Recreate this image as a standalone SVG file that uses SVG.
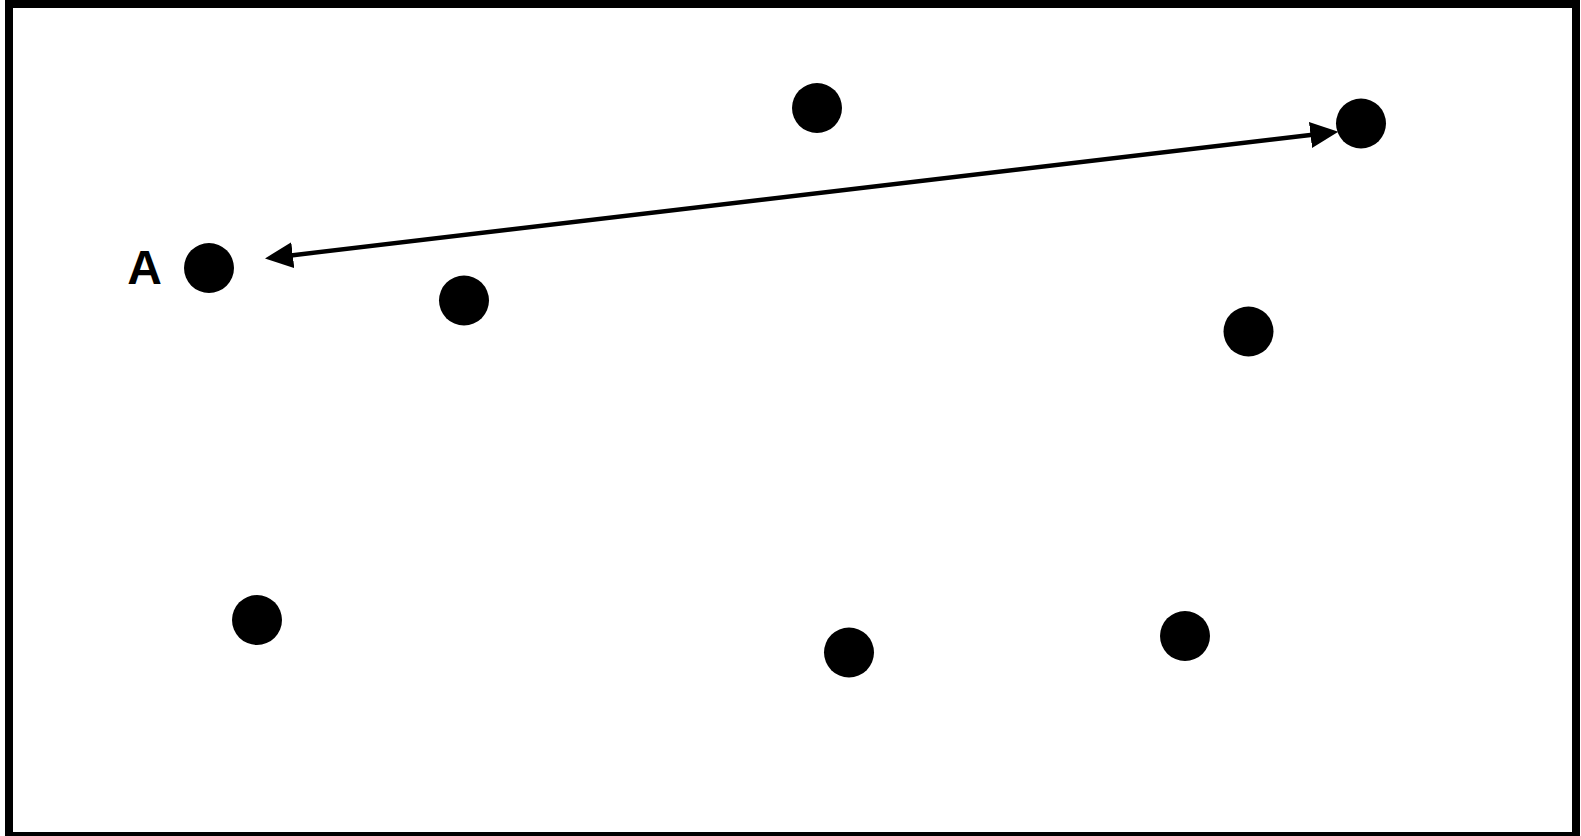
<svg xmlns="http://www.w3.org/2000/svg" width="1581" height="836" viewBox="0 0 1581 836">
<style>
.node{fill:#000}
.lbl{font-family:"Liberation Sans",Arial,sans-serif;font-weight:bold;font-size:48px;fill:#000}
.edge{stroke:#000;stroke-width:4.5;fill:none}
</style>
<defs>
<marker id="ah" viewBox="0 0 28 26" refX="2" refY="13" markerWidth="28" markerHeight="26" markerUnits="userSpaceOnUse" orient="auto-start-reverse">
<path d="M0,0 L28,13 L0,26 z" fill="#000"/>
</marker>
</defs>
<rect x="0" y="0" width="1581" height="836" fill="#fff"/>
<rect x="9" y="4" width="1567" height="832" fill="none" stroke="#000" stroke-width="8"/>
<g id="connectors">
<line class="edge" x1="290.8" y1="255.4" x2="1312.5" y2="134.75" marker-start="url(#ah)" marker-end="url(#ah)"/>
</g>
<g id="nodeA"><circle class="node" cx="209" cy="268" r="25"/><text class="lbl" x="144.5" y="284" text-anchor="middle">A</text></g>
<g id="node2"><circle class="node" cx="464" cy="300.5" r="25"/></g>
<g id="node3"><circle class="node" cx="817" cy="108" r="25"/></g>
<g id="node4"><circle class="node" cx="1361" cy="123.5" r="25"/></g>
<g id="node5"><circle class="node" cx="1248.5" cy="331.5" r="25"/></g>
<g id="node6"><circle class="node" cx="257" cy="620" r="25"/></g>
<g id="node7"><circle class="node" cx="849" cy="652.5" r="25"/></g>
<g id="node8"><circle class="node" cx="1185" cy="636" r="25"/></g>
</svg>
